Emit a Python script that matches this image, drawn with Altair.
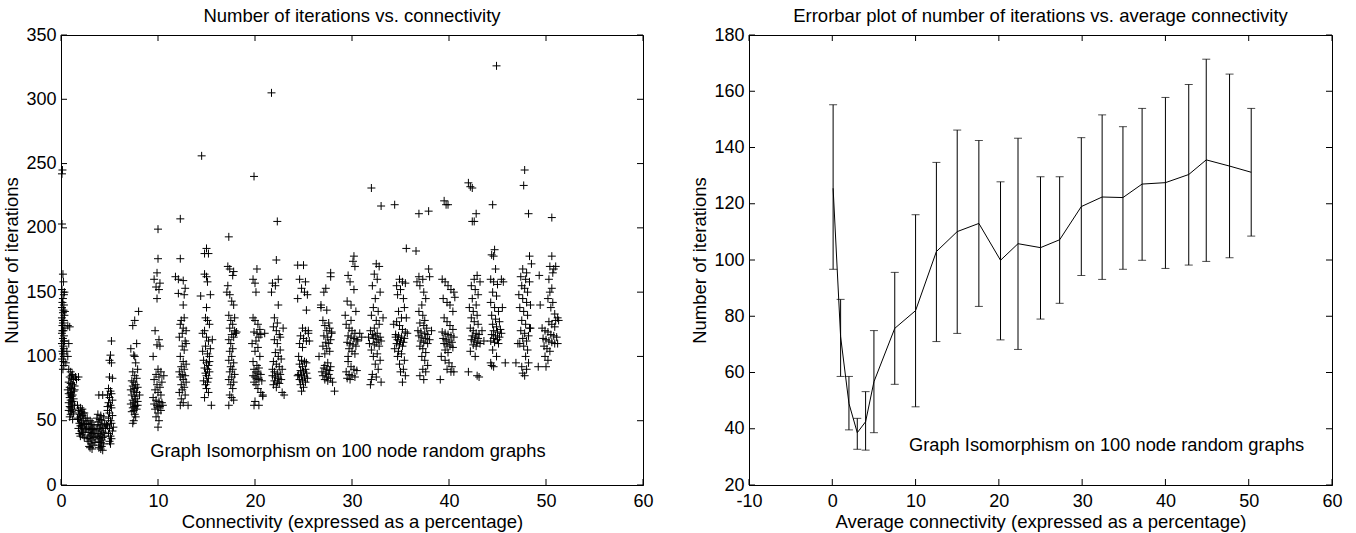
import altair as alt
import pandas as pd

FONT = "Liberation Sans"

# ---------------- Left panel: scatter of iterations vs connectivity ----------------
col_a = [(0.1,242),(0.15,245),(0.1,203),(0.2,164),(0.25,158),(0.1,152),(0.3,148),(0.2,145),(0.15,142),(0.3,140),
         (0.1,138),(0.25,136),(0.2,134),(0.35,132),(0.1,130),(0.3,128),(0.2,126),(0.15,124),(0.4,122),(0.25,120),
         (0.1,118),(0.3,116),(0.2,114),(0.35,112),(0.1,110),(0.25,108),(0.3,106),(0.15,104),(0.2,102),(0.3,100),
         (0.1,98),(0.25,96),(0.3,93),(0.2,90),(0.7,124),(0.9,123),(0.8,110),(0.6,104),(0.7,100),(0.5,95),
         (0.4,135),(0.35,150),(0.2,128),(0.15,120),(0.3,112)]
col_b = [(0.8,90),(1.0,88),(1.2,86),(0.9,84),(1.1,83),(1.3,82),(0.8,80),(1.0,79),(1.2,78),(1.4,77),
         (0.9,76),(1.1,75),(0.7,74),(1.3,73),(1.0,72),(0.8,71),(1.2,70),(1.1,69),(0.9,68),(1.3,67),
         (1.0,66),(1.2,65),(0.8,64),(1.1,63),(1.4,62),(0.9,61),(1.0,60),(1.2,59),(0.8,58),(1.1,57),
         (1.3,56),(1.0,55),(0.9,53),(1.2,51),(1.1,85),(1.5,84),(1.6,82),(1.8,84),(1.4,74),(1.0,70)]
col_c = [(1.7,62),(2.0,60),(2.2,59),(1.8,58),(2.1,57),(2.4,56),(1.9,55),(2.2,54),(2.0,53),(2.5,52),
         (1.8,51),(2.3,50),(2.1,49),(1.9,48),(2.4,47),(2.0,46),(2.2,45),(1.8,44),(2.5,43),(2.1,42),
         (2.3,41),(1.9,40),(2.2,39),(2.0,38),(2.4,37),(2.6,48),(2.6,44),(1.7,52),(2.3,56),(2.1,46)]
col_d = [(2.7,52),(3.0,50),(3.2,49),(2.8,48),(3.1,47),(3.4,46),(2.9,45),(3.2,44),(3.0,43),(3.5,42),
         (2.8,41),(3.3,40),(3.1,39),(2.9,38),(3.4,37),(3.0,36),(3.2,35),(2.8,34),(3.5,33),(3.1,32),
         (3.3,31),(2.9,30),(3.0,29),(3.2,28),(3.6,38),(2.7,36),(3.3,43),(3.1,41)]
col_e = [(3.9,70),(4.3,70),(3.8,55),(4.1,54),(4.4,53),(3.7,52),(4.0,51),(4.2,50),(3.9,49),(4.5,48),
         (3.8,47),(4.1,46),(4.3,45),(4.0,44),(3.7,43),(4.2,42),(4.4,41),(3.9,40),(4.1,39),(3.8,38),
         (4.3,37),(4.0,36),(4.2,35),(3.9,34),(4.1,33),(4.4,32),(4.0,31),(4.2,30),(3.9,29),(4.1,28),
         (4.3,27),(4.6,44),(4.5,38)]
col_f = [(5.2,112),(5.1,101),(5.0,97),(5.2,95),(5.0,84),(5.3,83),(4.9,75),(5.1,73),(5.2,71),(4.8,70),
         (5.0,68),(5.3,66),(4.9,64),(5.1,62),(5.2,60),(4.8,58),(5.0,56),(5.3,54),(4.9,52),(5.1,50),
         (5.2,48),(4.8,46),(5.0,44),(5.3,42),(4.9,40),(5.1,38),(5.2,36),(5.0,34),(5.1,32),(4.7,47),
         (5.4,45),(4.8,61)]
col_g = [(8.0,135),(7.6,128),(7.4,124),(7.8,110),(7.2,106),(7.5,101),(7.6,100),(7.7,95),(7.9,90),(7.4,88),
         (7.6,85),(7.8,83),(7.3,81),(7.5,80),(7.7,78),(7.4,77),(7.9,76),(7.6,75),(7.2,74),(7.5,73),
         (7.8,72),(7.3,70),(7.6,69),(7.7,67),(7.4,66),(7.9,65),(7.5,64),(7.2,63),(7.7,62),(7.6,61),
         (7.4,60),(7.8,59),(7.5,58),(7.3,57),(7.6,55),(7.7,53),(7.5,50),(7.4,48),(7.9,62),(8.1,70)]
col_h = [(10.0,199),(10.0,176),(9.9,165),(9.6,160),(10.2,157),(9.8,154),(10.1,152),(9.9,145),(9.7,120),(10.1,113),
         (9.9,109),(10.2,108),(9.5,100),(10.0,90),(10.3,88),(9.8,86),(10.6,85),(10.1,84),(9.6,82),(10.4,80),
         (9.9,78),(10.2,76),(9.7,74),(10.0,72),(10.3,70),(9.5,68),(9.8,66),(10.1,65),(10.4,64),(9.6,63),
         (9.9,62),(10.2,61),(10.0,60),(10.5,62),(9.7,59),(10.3,58),(10.0,56),(9.8,53),(10.1,50),(10.0,45)]
col_i = [(12.3,207),(12.3,176),(11.8,162),(12.6,159),(12.1,149),(12.8,153),(12.7,148),(12.6,140),(12.7,130),(12.4,128),
         (12.3,125),(12.6,122),(12.9,120),(12.5,118),(12.2,115),(12.8,112),(12.5,108),(12.7,105),(12.3,100),(12.6,96),
         (12.9,94),(12.4,92),(12.7,90),(12.2,88),(12.5,86),(12.8,85),(12.3,84),(12.6,82),(12.9,80),(12.4,78),
         (12.7,76),(12.5,74),(12.2,72),(12.8,70),(12.4,67),(12.6,64),(12.3,62),(13.1,62),(12.9,110),(12.1,160)]
col_j = [(14.5,256),(15.0,184),(14.8,180),(15.2,180),(14.8,164),(15.0,162),(15.1,158),(14.4,147),(15.4,148),(14.9,130),
         (15.1,128),(15.3,125),(14.8,120),(15.0,115),(15.2,112),(14.9,108),(15.4,106),(14.6,104),(15.1,102),(15.3,100),
         (14.7,97),(15.0,95),(15.2,93),(14.8,91),(15.1,90),(15.3,88),(14.9,87),(15.0,85),(15.2,83),(14.7,81),
         (15.1,80),(14.9,78),(15.0,75),(15.2,72),(14.8,68),(15.5,62),(15.0,138),(14.6,118),(15.6,113),(15.3,96)]
col_k = [(17.3,193),(17.2,170),(17.4,168),(17.8,166),(17.7,163),(17.1,150),(17.4,148),(17.6,143),(17.8,140),(17.3,132),
         (17.5,128),(17.7,125),(17.4,122),(17.9,120),(18.0,118),(17.6,117),(17.8,115),(17.3,113),(17.5,110),(17.7,106),
         (17.4,104),(17.6,100),(17.3,97),(17.8,95),(17.5,92),(17.7,90),(17.4,88),(17.9,86),(17.6,84),(17.3,82),
         (17.8,80),(17.5,78),(17.7,75),(17.4,70),(17.6,68),(17.8,66),(17.3,62),(17.9,130),(18.1,119),(17.2,155)]
col_l = [(19.9,240),(20.2,168),(19.8,160),(20.0,157),(20.1,150),(19.8,130),(20.0,128),(20.3,125),(20.5,121),(19.9,119),
         (20.2,118),(20.6,117),(20.4,115),(20.1,112),(19.7,110),(20.3,107),(20.0,104),(20.5,100),(19.8,96),(20.2,93),
         (20.4,91),(19.9,90),(20.1,88),(20.3,87),(20.6,86),(19.8,85),(20.0,84),(20.2,83),(20.4,82),(20.7,81),
         (19.9,80),(20.1,78),(20.3,75),(20.6,72),(20.8,70),(20.0,65),(20.4,62),(19.9,62),(21.0,118),(20.8,69)]
col_m = [(21.7,305),(22.3,205),(22.2,175),(21.8,157),(22.1,155),(22.4,160),(21.7,150),(22.0,130),(22.3,126),(21.9,123),
         (22.2,120),(22.5,117),(22.0,113),(22.3,110),(22.6,105),(22.1,103),(22.4,100),(22.7,98),(21.9,96),(22.2,94),
         (22.5,92),(22.8,90),(22.0,88),(22.3,87),(22.6,86),(21.8,85),(22.1,84),(22.4,83),(22.7,82),(22.0,81),
         (22.3,80),(22.5,79),(21.9,78),(22.2,76),(22.8,72),(23.0,70),(22.6,115),(22.9,122),(21.8,90),(22.4,140)]
col_n = [(24.4,171),(25.0,171),(24.6,160),(25.2,158),(24.8,153),(25.1,150),(24.4,145),(25.4,148),(25.3,136),(24.9,122),
         (25.2,120),(25.5,118),(24.7,116),(25.0,114),(25.3,112),(24.6,110),(24.9,107),(24.5,100),(24.8,97),(25.1,96),
         (24.6,94),(24.9,92),(25.2,90),(24.7,89),(25.0,88),(25.3,87),(24.5,86),(24.8,85),(25.1,84),(25.4,83),
         (24.6,82),(24.9,81),(25.2,80),(24.7,78),(25.0,76),(24.8,73),(25.5,120),(25.3,95),(24.4,85),(25.6,112)]
col_o = [(27.8,165),(27.8,162),(26.8,140),(26.8,138),(27.3,153),(27.1,150),(27.4,136),(27.0,128),(27.6,126),(27.2,124),
         (27.7,122),(27.4,120),(27.9,118),(27.1,116),(27.5,115),(27.8,113),(27.3,111),(27.6,110),(27.0,108),(27.4,106),
         (27.7,104),(27.2,102),(27.5,95),(27.8,92),(27.1,91),(27.4,90),(27.7,89),(26.9,88),(27.3,87),(27.6,86),
         (27.0,85),(27.4,84),(27.8,83),(27.2,82),(27.5,81),(28.0,80),(28.2,73),(26.6,100),(27.9,119),(27.2,93)]
col_p = [(30.2,178),(30.1,174),(30.3,170),(29.6,163),(29.8,158),(30.2,152),(29.5,143),(29.9,140),(29.4,125),(29.7,122),
         (30.0,120),(30.3,118),(29.6,116),(29.9,115),(30.2,114),(30.5,113),(29.5,111),(29.8,110),(30.1,109),(30.4,108),
         (29.7,106),(30.0,104),(30.3,102),(29.6,96),(29.9,92),(30.2,90),(30.5,89),(29.4,88),(29.7,86),(30.0,85),
         (30.3,84),(29.5,83),(29.8,82),(30.6,112),(30.8,118),(31.0,115),(29.3,132),(29.9,128),(30.4,135),(29.6,100)]
col_q = [(32.0,231),(33.0,217),(32.5,172),(32.8,170),(32.3,164),(32.6,160),(32.1,155),(32.9,150),(32.4,145),(32.2,138),
         (32.7,135),(32.0,132),(32.5,128),(32.8,125),(32.3,122),(31.9,120),(32.6,118),(32.1,117),(32.4,116),(32.9,115),
         (32.2,114),(32.7,113),(33.0,112),(32.5,111),(31.8,110),(32.3,109),(32.8,108),(32.0,105),(32.6,102),(32.2,100),
         (32.9,97),(32.4,94),(32.7,90),(32.1,86),(32.5,84),(32.0,82),(33.0,80),(31.9,78),(33.2,130),(31.7,115)]
col_r = [(34.4,218),(35.6,184),(34.9,160),(35.2,158),(35.5,157),(34.6,155),(35.0,152),(34.7,148),(35.3,145),(35.4,138),
         (34.8,135),(35.1,130),(34.6,127),(34.9,124),(35.2,121),(35.5,119),(34.5,117),(34.8,116),(35.1,115),(35.4,114),
         (34.7,113),(35.0,112),(35.3,111),(34.6,110),(34.9,109),(35.2,108),(34.4,106),(34.8,104),(35.1,102),(34.7,100),
         (35.4,97),(34.9,94),(35.3,90),(35.0,88),(35.5,85),(35.2,80),(34.5,115),(35.7,118),(34.3,125),(35.6,130)]
col_s = [(36.9,211),(37.9,213),(36.6,182),(36.9,162),(37.3,160),(36.7,158),(37.0,155),(37.4,150),(37.9,168),(38.0,162),
         (37.6,145),(37.2,140),(36.9,135),(37.3,132),(37.5,128),(37.0,126),(37.4,124),(37.7,122),(36.8,120),(37.1,119),
         (37.5,118),(37.8,117),(36.9,116),(37.2,115),(37.6,114),(38.0,113),(37.1,112),(37.4,111),(37.8,110),(37.0,108),
         (37.3,106),(37.6,103),(37.2,100),(37.5,97),(37.8,93),(37.3,90),(37.6,88),(37.0,85),(37.4,82),(38.2,120)]
col_t = [(39.5,221),(39.7,218),(39.9,218),(39.3,160),(39.6,158),(39.9,155),(40.2,152),(40.5,150),(39.4,145),(39.8,142),
         (40.1,140),(40.4,135),(39.5,130),(39.8,127),(40.1,124),(40.4,121),(39.3,119),(39.6,118),(39.9,117),(40.2,116),
         (40.5,115),(39.4,114),(39.7,113),(40.0,112),(40.3,111),(39.5,110),(39.8,109),(40.1,108),(40.4,107),(39.6,105),
         (39.9,103),(39.2,100),(39.6,97),(40.0,95),(40.3,92),(39.8,90),(40.2,88),(40.5,88),(39.1,82),(40.6,146)]
col_u = [(42.0,235),(42.2,232),(42.4,231),(42.4,205),(42.6,205),(42.8,211),(42.9,163),(42.6,160),(43.2,158),(42.3,155),
         (42.7,152),(43.0,148),(42.4,145),(42.8,140),(42.1,138),(42.5,135),(42.9,132),(42.3,130),(42.6,127),(43.0,125),
         (42.2,122),(42.5,120),(42.8,118),(43.1,117),(42.4,116),(42.7,115),(43.0,114),(42.3,113),(42.6,112),(42.9,111),
         (43.2,110),(42.5,109),(42.8,108),(42.2,104),(42.7,100),(42.0,88),(42.9,85),(43.1,84),(43.4,120),(43.6,112)]
col_v = [(44.9,326),(44.5,218),(44.7,183),(44.4,179),(44.6,178),(44.8,168),(44.3,160),(44.6,158),(45.0,156),(45.4,160),
         (45.6,158),(44.5,150),(44.9,147),(44.3,142),(44.7,138),(45.1,135),(44.4,132),(44.8,129),(45.2,127),(44.5,125),
         (44.9,123),(45.3,121),(44.6,120),(45.0,119),(45.4,118),(44.4,117),(44.8,116),(45.2,115),(44.6,114),(45.0,113),
         (44.3,112),(44.7,111),(45.1,110),(44.5,105),(44.9,100),(44.3,95),(44.4,93),(44.6,92),(45.8,95),(45.5,138)]
col_w = [(47.8,245),(47.7,233),(48.2,211),(48.3,178),(48.5,172),(47.6,168),(48.0,165),(47.4,162),(47.9,160),(48.3,158),
         (47.5,155),(47.8,153),(48.1,150),(47.2,148),(47.6,145),(48.0,142),(48.4,140),(47.3,138),(47.7,135),(48.1,132),
         (47.5,128),(47.9,125),(48.3,122),(47.4,120),(47.8,118),(48.2,116),(47.6,114),(48.0,112),(47.3,110),(47.7,108),
         (48.1,105),(47.9,100),(48.2,95),(47.5,92),(48.0,90),(47.6,87),(47.8,85),(46.9,95),(47.1,110),(48.4,122)]
col_x = [(50.6,208),(50.6,178),(50.4,170),(50.8,168),(51.0,170),(50.7,165),(50.3,160),(50.6,153),(50.4,150),(50.2,145),
         (50.7,142),(50.5,138),(50.9,133),(51.2,130),(51.0,128),(50.3,127),(50.6,125),(50.9,123),(51.3,128),(49.6,122),
         (49.9,120),(50.2,119),(50.5,117),(50.8,116),(51.1,115),(49.7,114),(50.0,113),(50.3,112),(50.6,111),(50.9,110),
         (51.2,110),(49.8,108),(50.1,106),(50.4,104),(49.9,100),(50.2,97),(49.4,140),(49.3,163),(49.2,92),(50.0,92)]

scatter_columns = [col_a, col_b, col_c, col_d, col_e, col_f, col_g, col_h, col_i, col_j, col_k, col_l,
                   col_m, col_n, col_o, col_p, col_q, col_r, col_s, col_t, col_u, col_v, col_w, col_x]

left_x_ticks = [0, 10, 20, 30, 40, 50, 60]
left_y_ticks = [0, 50, 100, 150, 200, 250, 300, 350]

# ---------------- Right panel: error bar plot ----------------
avg_x = [0.1, 1.0, 2.0, 3.0, 4.0, 5.0, 7.5, 10.0, 12.5, 15.0, 17.6, 20.2,
         22.3, 25.0, 27.3, 29.9, 32.4, 34.9, 37.2, 40.0, 42.8, 44.9, 47.7, 50.3]
avg_mean = [125.5, 72.7, 49.0, 38.6, 42.5, 56.7, 75.7, 82.0, 103.0, 110.1, 113.0, 99.9,
            105.8, 104.4, 107.2, 119.0, 122.4, 122.2, 127.0, 127.5, 130.4, 135.6, 133.4, 131.2]
err_high = [155.2, 86.0, 58.6, 43.7, 53.2, 74.9, 95.6, 116.1, 134.7, 146.2, 142.5, 127.8,
            143.3, 129.6, 129.6, 143.5, 151.6, 147.4, 153.9, 157.8, 162.4, 171.4, 166.1, 153.9]
err_low = [96.7, 58.6, 39.6, 32.7, 32.4, 38.6, 55.8, 47.8, 71.0, 73.9, 83.5, 71.6,
           68.2, 79.0, 84.6, 94.5, 93.1, 96.7, 99.9, 97.0, 98.2, 99.5, 100.8, 108.5]

right_x_ticks = [-10, 0, 10, 20, 30, 40, 50, 60]
right_y_ticks = [20, 40, 60, 80, 100, 120, 140, 160, 180]

note_text = "Graph Isomorphism on 100 node random graphs"
left_note = {"x": 9.2, "y": 25.7}
right_note = {"x": 9.2, "y": 33.9}

W_L, W_R, H = 582, 583, 450
TICK = 6

scatter_df = pd.DataFrame([p for col in scatter_columns for p in col], columns=["x", "y"])
err_df = pd.DataFrame({"x": avg_x, "mean": avg_mean, "hi": err_high, "lo": err_low})

PLUS = "M-1,0L1,0M0,-1L0,1"
HYPHEN_LABEL = "datum.value < 0 ? '-' + abs(datum.value) : datum.label"


def tick_layers(xt, yt, xs, ys, xa, ya, w):
    xdf = pd.DataFrame({"v": xt})
    ydf = pd.DataFrame({"v": yt})
    bx = alt.Chart(xdf).mark_rule(color="black", strokeWidth=1).encode(
        x=alt.X("v:Q", scale=xs, axis=xa), y=alt.value(H), y2=alt.value(H - TICK))
    tx = alt.Chart(xdf).mark_rule(color="black", strokeWidth=1).encode(
        x=alt.X("v:Q", scale=xs, axis=xa), y=alt.value(0), y2=alt.value(TICK))
    ly = alt.Chart(ydf).mark_rule(color="black", strokeWidth=1).encode(
        y=alt.Y("v:Q", scale=ys, axis=ya), x=alt.value(0), x2=alt.value(TICK))
    ry = alt.Chart(ydf).mark_rule(color="black", strokeWidth=1).encode(
        y=alt.Y("v:Q", scale=ys, axis=ya), x=alt.value(w), x2=alt.value(w - TICK))
    return [bx, tx, ly, ry]


# Left chart
xs_l = alt.Scale(domain=[0, 60], nice=False, zero=False)
ys_l = alt.Scale(domain=[0, 350], nice=False, zero=False)
xa_l = alt.Axis(values=left_x_ticks, title="Connectivity (expressed as a percentage)")
ya_l = alt.Axis(values=left_y_ticks, title="Number of iterations")

scatter = alt.Chart(scatter_df).mark_point(
    shape=PLUS, size=64, filled=False, stroke="black", strokeWidth=1, opacity=1
).encode(
    x=alt.X("x:Q", scale=xs_l, axis=xa_l),
    y=alt.Y("y:Q", scale=ys_l, axis=ya_l),
)
note_l = alt.Chart(pd.DataFrame([{**left_note, "t": note_text}])).mark_text(
    align="left", baseline="middle", font=FONT, fontSize=18.3, color="black"
).encode(x=alt.X("x:Q", scale=xs_l, axis=xa_l), y=alt.Y("y:Q", scale=ys_l, axis=ya_l), text="t:N")

left = alt.layer(scatter, note_l, *tick_layers(left_x_ticks, left_y_ticks, xs_l, ys_l, xa_l, ya_l, W_L)).properties(
    width=W_L, height=H,
    title=alt.TitleParams("Number of iterations vs. connectivity", offset=1),
)

# Right chart
xs_r = alt.Scale(domain=[-10, 60], nice=False, zero=False)
ys_r = alt.Scale(domain=[20, 180], nice=False, zero=False)
xa_r = alt.Axis(values=right_x_ticks, labelExpr=HYPHEN_LABEL,
                title="Average connectivity (expressed as a percentage)")
ya_r = alt.Axis(values=right_y_ticks, title="Number of iterations")

bars = alt.Chart(err_df).mark_rule(color="black", strokeWidth=1).encode(
    x=alt.X("x:Q", scale=xs_r, axis=xa_r),
    y=alt.Y("lo:Q", scale=ys_r, axis=ya_r),
    y2="hi:Q",
)
cap_hi = alt.Chart(err_df).mark_tick(color="black", orient="horizontal", size=8, thickness=1).encode(
    x=alt.X("x:Q", scale=xs_r, axis=xa_r), y=alt.Y("hi:Q", scale=ys_r, axis=ya_r))
cap_lo = alt.Chart(err_df).mark_tick(color="black", orient="horizontal", size=8, thickness=1).encode(
    x=alt.X("x:Q", scale=xs_r, axis=xa_r), y=alt.Y("lo:Q", scale=ys_r, axis=ya_r))
line = alt.Chart(err_df).mark_line(color="black", strokeWidth=1).encode(
    x=alt.X("x:Q", scale=xs_r, axis=xa_r), y=alt.Y("mean:Q", scale=ys_r, axis=ya_r))
note_r = alt.Chart(pd.DataFrame([{**right_note, "t": note_text}])).mark_text(
    align="left", baseline="middle", font=FONT, fontSize=18.3, color="black"
).encode(x=alt.X("x:Q", scale=xs_r, axis=xa_r), y=alt.Y("y:Q", scale=ys_r, axis=ya_r), text="t:N")

right = alt.layer(bars, cap_hi, cap_lo, line, note_r,
                  *tick_layers(right_x_ticks, right_y_ticks, xs_r, ys_r, xa_r, ya_r, W_R)).properties(
    width=W_R, height=H,
    title=alt.TitleParams("Errorbar plot of number of iterations vs. average connectivity", offset=1),
)

chart = alt.hconcat(left, right, spacing=36).properties(
    padding={"left": 2, "top": 6, "right": 5, "bottom": 2}
).configure_axis(
    labelFont=FONT, titleFont=FONT, labelFontSize=18, titleFontSize=18.5,
    labelColor="black", titleColor="black", titleFontWeight="normal",
    domainColor="black", domainWidth=1, ticks=False, grid=False,
    labelFlush=False, labelOverlap=False, labelPadding=5, titlePadding=4,
).configure_axisX(labelPadding=7, titlePadding=2).configure_view(
    stroke="black", strokeWidth=1
).configure_title(
    font=FONT, fontSize=18.5, fontWeight="normal", color="black", anchor="middle"
)

chart.save("out.html", embed_options={"renderer": "svg", "actions": False})
